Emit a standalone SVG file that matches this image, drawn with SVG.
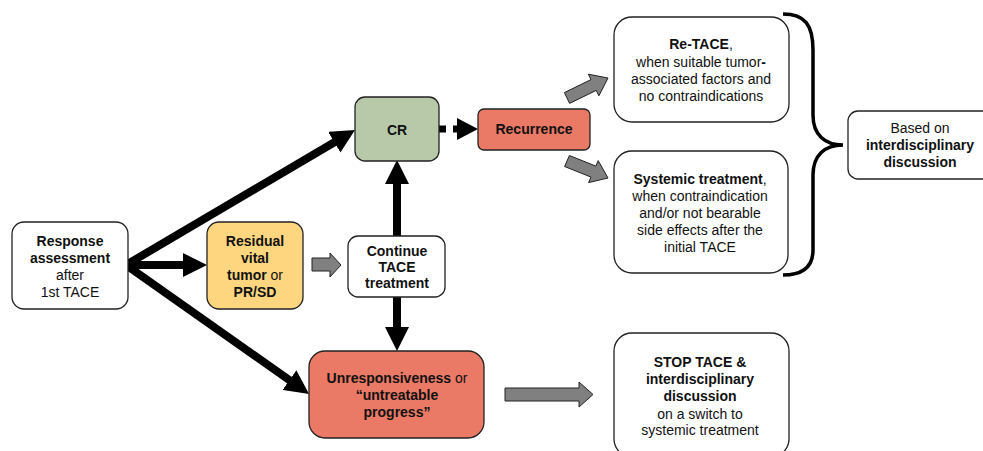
<svg xmlns="http://www.w3.org/2000/svg" width="983" height="451" viewBox="0 0 983 451">
<style>
.box{stroke:#222;stroke-width:1.3}
.w{fill:#fff}
.y{fill:#fed680}
.g{fill:#b7c9a9}
.r{fill:#ea7966}
text{font-family:"Liberation Sans",Arial,sans-serif;font-size:14px;fill:#111;text-anchor:middle}
.b{font-weight:bold}
.thick{stroke:#000;stroke-width:8;fill:none}
.block{fill:#808080;stroke:#222;stroke-width:1}
</style>
<defs>
<marker id="ah" markerUnits="userSpaceOnUse" markerWidth="24" markerHeight="24" refX="8" refY="12" orient="auto">
<path d="M0,0 L24,12 L0,24 z" fill="#000"/>
</marker>
<marker id="ahs" markerUnits="userSpaceOnUse" markerWidth="21" markerHeight="22" refX="5" refY="11" orient="auto">
<path d="M0,0 L21,11 L0,22 z" fill="#000"/>
</marker>
</defs>

<g id="connectors">
<line class="thick" x1="126" y1="265" x2="341.2" y2="138.2" marker-end="url(#ah)"/>
<line class="thick" x1="126" y1="265" x2="191" y2="265" marker-end="url(#ah)"/>
<line class="thick" x1="126" y1="265" x2="296" y2="384.7" marker-end="url(#ah)"/>
<line class="thick" x1="397" y1="236" x2="397" y2="176" marker-end="url(#ah)"/>
<line class="thick" x1="397" y1="297" x2="397" y2="335" marker-end="url(#ah)"/>
<line x1="439" y1="129" x2="462" y2="129" stroke="#000" stroke-width="7" stroke-dasharray="7 7" marker-end="url(#ahs)"/>
<polygon class="block" points="312,258 330,258 330,253 341,265 330,277 330,271 312,271"/>
<polygon class="block" points="505,388 579,388 579,382 593,394.5 579,407 579,401 505,401"/>
<polygon class="block" points="569.6,103.4 596.2,90.4 598.9,95.8 608,78 588.3,74.2 591,79.6 564.4,92.6"/>
<polygon class="block" points="564.6,166.5 591,177.1 588.6,182.6 608,178 598.2,160.6 595.8,166.1 569.4,155.5"/>
<path d="M783,14 C805,14 813,25 813,50 L813,115 C813,135 825,145 843,145 C825,145 813,155 813,175 L813,250 C813,265 805,275 783,275" fill="none" stroke="#000" stroke-width="3.5"/>
</g>

<g id="response">
<rect class="box w" x="12" y="222" width="116" height="87" rx="12"/>
<text x="70" y="246" class="b">Response</text>
<text x="70" y="263" class="b">assessment</text>
<text x="70" y="280">after</text>
<text x="70" y="297">1st TACE</text>
</g>

<g id="residual">
<rect class="box y" x="207" y="222" width="96" height="87" rx="12"/>
<text x="255" y="246" class="b">Residual</text>
<text x="255" y="263" class="b">vital</text>
<text x="255" y="280"><tspan class="b">tumor</tspan> or</text>
<text x="255" y="297" class="b">PR/SD</text>
</g>

<g id="continue">
<rect class="box w" x="348" y="236" width="97" height="61" rx="10"/>
<text x="397" y="256" class="b">Continue</text>
<text x="397" y="272" class="b">TACE</text>
<text x="397" y="288" class="b">treatment</text>
</g>

<g id="cr">
<rect class="box g" x="355" y="97" width="84" height="64" rx="10"/>
<text x="397" y="135" class="b">CR</text>
</g>

<g id="recurrence">
<rect class="box r" x="478" y="109" width="112" height="41" rx="6"/>
<text x="534" y="134" class="b">Recurrence</text>
</g>

<g id="retace">
<rect class="box w" x="614" y="17" width="175" height="105" rx="18"/>
<text x="701" y="49"><tspan class="b">Re-TACE</tspan>,</text>
<text x="701" y="67">when suitable tumor<tspan class="b">-</tspan></text>
<text x="701" y="84">associated factors and</text>
<text x="701" y="101">no contraindications</text>
</g>

<g id="systemic">
<rect class="box w" x="614" y="151" width="174" height="122" rx="18"/>
<text x="700" y="184"><tspan class="b">Systemic treatment</tspan>,</text>
<text x="700" y="201">when contraindication</text>
<text x="700" y="218">and/or not bearable</text>
<text x="700" y="235">side effects after the</text>
<text x="700" y="252">initial TACE</text>
</g>

<g id="basedon">
<rect class="box w" x="848" y="111" width="145" height="68" rx="10"/>
<text x="920" y="133">Based on</text>
<text x="920" y="150" class="b">interdisciplinary</text>
<text x="920" y="167" class="b">discussion</text>
</g>

<g id="unresponsiveness">
<rect class="box r" x="309" y="351" width="175" height="87" rx="16"/>
<text x="397" y="383"><tspan class="b">Unresponsiveness</tspan> or</text>
<text x="397" y="400" class="b">“untreatable</text>
<text x="397" y="417" class="b">progress”</text>
</g>

<g id="stop">
<rect class="box w" x="614" y="333" width="175" height="124" rx="18"/>
<text x="700" y="367" class="b">STOP TACE &amp;</text>
<text x="700" y="384" class="b">interdisciplinary</text>
<text x="700" y="401" class="b">discussion</text>
<text x="700" y="419">on a switch to</text>
<text x="700" y="435">systemic treatment</text>
</g>
</svg>
